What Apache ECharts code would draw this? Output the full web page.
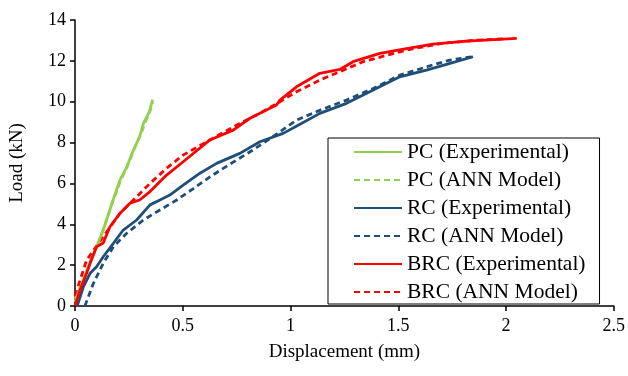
<!DOCTYPE html>
<html>
<head>
<meta charset="utf-8">
<script src="https://cdn.jsdelivr.net/npm/echarts@6/dist/echarts.min.js"></script>
<style>
  html, body { margin: 0; padding: 0; background: #fff; }
  #chart { width: 628px; height: 376px; }
</style>
</head>
<body>
<div id="chart"></div>
<script>
// [displacement (mm), load (kN)]
const pcExp = [[0,0.2],[0.015,0.63],[0.039,1.27],[0.07,2.1],[0.10,2.9],[0.131,3.72],[0.177,5.2],[0.209,6.17],[0.24,6.8],[0.27,7.6],[0.30,8.29],[0.317,8.94],[0.345,9.5],[0.36,10.1]];
const pcAnn = [[0,0.35],[0.02,0.8],[0.045,1.5],[0.075,2.3],[0.105,3.0],[0.135,3.85],[0.175,5.1],[0.21,6.1],[0.245,6.9],[0.275,7.7],[0.305,8.4],[0.33,9.1],[0.35,9.6],[0.36,10.0]];
const rcExp = [[0.01,0],[0.039,0.94],[0.07,1.6],[0.10,1.92],[0.131,2.41],[0.178,3.07],[0.224,3.72],[0.286,4.21],[0.348,4.95],[0.394,5.19],[0.44,5.43],[0.502,5.92],[0.58,6.5],[0.657,6.98],[0.765,7.47],[0.858,8.04],[0.966,8.45],[1.044,8.9],[1.136,9.43],[1.26,9.92],[1.384,10.57],[1.507,11.22],[1.631,11.55],[1.74,11.88],[1.847,12.2]];
const rcAnn = [[0.046,0],[0.085,1.1],[0.131,2.09],[0.178,2.9],[0.24,3.56],[0.317,4.21],[0.394,4.7],[0.472,5.19],[0.549,5.75],[0.63,6.35],[0.72,6.95],[0.82,7.6],[0.92,8.3],[1.028,9.1],[1.14,9.6],[1.26,10.08],[1.384,10.65],[1.507,11.3],[1.66,11.8],[1.74,12.04],[1.84,12.2]];
const brcExp = [[0,0],[0.005,0.05],[0.023,0.78],[0.054,1.6],[0.07,2.09],[0.10,2.9],[0.131,3.08],[0.162,3.88],[0.209,4.54],[0.255,5.03],[0.30,5.19],[0.348,5.6],[0.425,6.41],[0.502,7.06],[0.626,8.13],[0.734,8.61],[0.812,9.19],[0.935,9.84],[0.951,10.08],[1.028,10.73],[1.136,11.39],[1.229,11.58],[1.29,11.96],[1.415,12.37],[1.538,12.6],[1.66,12.82],[1.817,12.97],[2.05,13.1]];
const brcAnn = [[0,0.5],[0.054,2.25],[0.131,3.39],[0.209,4.54],[0.286,5.35],[0.348,6.0],[0.425,6.74],[0.502,7.39],[0.626,8.13],[0.765,8.94],[0.858,9.43],[0.951,10.0],[1.028,10.49],[1.136,11.06],[1.229,11.47],[1.337,11.96],[1.538,12.53],[1.7,12.85],[1.85,13.0],[2.0,13.08]];

const seriesNames = ["PC (Experimental)", "PC (ANN Model)", "RC (Experimental)", "RC (ANN Model)", "BRC (Experimental)", "BRC (ANN Model)"];
const seriesData = [pcExp, pcAnn, rcExp, rcAnn, brcExp, brcAnn];
const colors = ["#92D050", "#92D050", "#1F4E79", "#1F4E79", "#FF0000", "#FF0000"];

const font = "'Liberation Serif', 'Times New Roman', serif";
const chart = echarts.init(document.getElementById("chart"));

const line = (i) => ({
  name: seriesNames[i],
  type: "line",
  data: seriesData[i],
  symbol: "none",
  showSymbol: false,
  z: i % 2 === 0 ? 3 : 2,
  itemStyle: { color: colors[i] },
  lineStyle: { color: colors[i], width: 2.8, type: i % 2 === 0 ? "solid" : [6, 4] }
});

chart.setOption({
  animation: false,
  backgroundColor: "#fff",
  textStyle: { fontFamily: font },
  grid: { left: 75, right: 14, top: 20, bottom: 70 },
  xAxis: {
    type: "value",
    min: 0, max: 2.5, interval: 0.5,
    name: "Displacement (mm)",
    nameLocation: "middle",
    nameGap: 37,
    nameTextStyle: { color: "#000", fontSize: 19, fontFamily: font },
    axisLine: { lineStyle: { color: "#000", width: 1.5 } },
    axisTick: { show: true, length: 5, lineStyle: { color: "#000", width: 1.5 } },
    axisLabel: { color: "#000", fontSize: 18, margin: 11, fontFamily: font },
    splitLine: { show: false }
  },
  yAxis: {
    type: "value",
    min: 0, max: 14, interval: 2,
    name: "Load (kN)",
    nameLocation: "middle",
    nameGap: 48,
    nameTextStyle: { color: "#000", fontSize: 19, fontFamily: font },
    axisLine: { show: true, lineStyle: { color: "#000", width: 1.5 } },
    axisTick: { show: true, length: 5, lineStyle: { color: "#000", width: 1.5 } },
    axisLabel: { color: "#000", fontSize: 18, margin: 9, fontFamily: font },
    splitLine: { show: false }
  },
  legend: {
    orient: "vertical",
    left: 328,
    top: 138,
    data: seriesNames,
    itemWidth: 48,
    itemHeight: 14,
    itemGap: 6,
    padding: [3, 14, 1, 25],
    borderColor: "#000",
    borderWidth: 1,
    backgroundColor: "#fff",
    itemStyle: { opacity: 0 },
    textStyle: { color: "#000", fontSize: 21.5, fontFamily: font }
  },
  series: seriesData.map((_, i) => line(i))
});
</script>
</body>
</html>
